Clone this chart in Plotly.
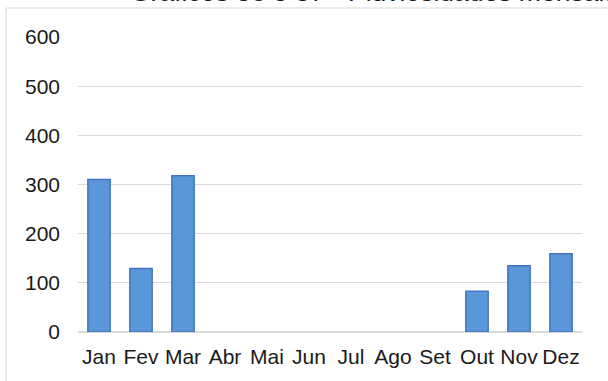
import plotly.graph_objects as go

# Monthly rainfall (mm)
months = ["Jan", "Fev", "Mar", "Abr", "Mai", "Jun", "Jul", "Ago", "Set", "Out", "Nov", "Dez"]
rainfall = [310, 129, 318, 0, 0, 0, 0, 0, 0, 83, 135, 159]
y_ticks = [0, 100, 200, 300, 400, 500, 600]

title_text = "Gráficos 36 e 37 - Pluviosidades mensais"

W, H = 608, 381
# paper area starts at the chart frame (top-left corner)
ML, MT = 6, 8
pw, ph = W - ML, H - MT
# plot area in pixels
PX0, PX1, PY0, PY1 = 78, 582, 37, 332


def fx(p):
    return (p - ML) / pw


def fy(p):
    return (H - p) / ph


# months without rain get no outline, so nothing is drawn for them
outline_w = [1.5 if v > 0 else 0 for v in rainfall]

fig = go.Figure(
    go.Bar(
        x=months,
        y=rainfall,
        width=0.53,
        marker=dict(color="#5a97d8", line=dict(color="#4472c4", width=outline_w)),
        hoverinfo="x+y",
    )
)

# outer chart frame (light grey), top and left edges
frame = dict(color="#d9d9d9", width=1)
fig.add_shape(type="line", xref="paper", yref="paper",
              x0=0, x1=1, y0=1, y1=1, line=frame)
fig.add_shape(type="line", xref="paper", yref="paper",
              x0=0, x1=0, y0=0, y1=1, line=frame)

fig.add_annotation(
    text=title_text, xref="paper", yref="paper",
    x=fx(128), xanchor="left",
    y=fy(-8), yanchor="middle",
    showarrow=False, font=dict(size=26.5, color="#1a1a1a"),
)

fig.update_layout(
    width=W, height=H,
    margin=dict(l=ML, r=0, t=MT, b=0, pad=0, autoexpand=False),
    paper_bgcolor="white", plot_bgcolor="white",
    font=dict(family="Liberation Sans, Arial, sans-serif", size=21, color="#1a1a1a"),
    showlegend=False,
    bargap=0.47,
    xaxis=dict(domain=[fx(PX0), fx(PX1)], showgrid=False, showline=False, ticks="",
               ticklabelstandoff=10, automargin=False),
    yaxis=dict(
        domain=[fy(PY1), fy(PY0)], automargin=False,
        range=[0, 600], tickvals=y_ticks, showgrid=True, gridcolor="#d9d9d9", gridwidth=1,
        zeroline=True, zerolinecolor="#d9d9d9", zerolinewidth=1.5,
        showline=False, ticks="", ticklabelstandoff=17,
    ),
)

fig.write_html("out.html")
